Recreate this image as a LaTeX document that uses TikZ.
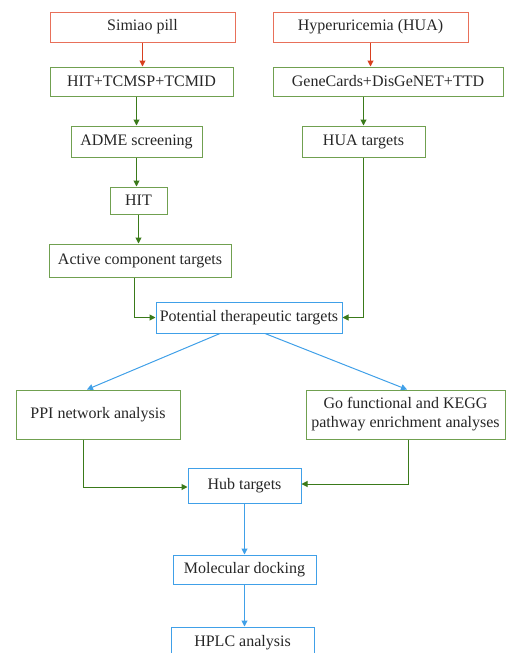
\documentclass[tikz,border=0pt]{standalone}
\usepackage{fontspec}
\setmainfont{Liberation Serif}
\usetikzlibrary{arrows.meta, positioning}
\definecolor{startred}{RGB}{232, 112, 90}
\definecolor{arrowred}{RGB}{216, 64, 32}
\definecolor{boxgreen}{RGB}{112, 160, 80}
\definecolor{arrowgreen}{RGB}{58, 122, 26}
\definecolor{stepblue}{RGB}{64, 160, 232}

\begin{document}
\begin{tikzpicture}[x=1pt, y=-1pt, >={Triangle[length=6pt,width=6pt]},
  every node/.style={font=\fontsize{16}{19}\selectfont, text=black!85},
  redbox/.style={rectangle, draw=startred, line width=1pt, inner sep=0pt},
  greenbox/.style={rectangle, draw=boxgreen, line width=1pt, inner sep=0pt},
  bluebox/.style={rectangle, draw=stepblue, line width=1pt, inner sep=0pt},
  redarrow/.style={->, arrowred, line width=1pt},
  greenarrow/.style={->, arrowgreen, line width=1pt},
  bluearrow/.style={->, stepblue, line width=1pt}]

\useasboundingbox (0,0) rectangle (506,653);
\clip (0,0) rectangle (506,653);

% Sources
\node[redbox, minimum width=185, minimum height=30] at (142.5,27) (sp) {Simiao pill};
\node[redbox, minimum width=195, minimum height=30] at (370.5,27) (hua) {Hyperuricemia (HUA)};

% Databases
\node[greenbox, minimum width=183, minimum height=29] at (141.5,81.5) (db1) {HIT+TCMSP+TCMID};
\node[greenbox, minimum width=230, minimum height=29] at (388,81.5) (db2) {GeneCards+DisGeNET+TTD};

% Screening and targets
\node[greenbox, minimum width=131, minimum height=31] at (136.5,141.5) (adme) {ADME screening};
\node[greenbox, minimum width=123, minimum height=31] at (363.5,141.5) (huat) {HUA targets};
\node[greenbox, minimum width=57, minimum height=27] at (138.5,200.5) (hit) {HIT};
\node[greenbox, minimum width=182, minimum height=33] at (140,260.5) (act) {Active component targets};

% Intersection
\node[bluebox, minimum width=186, minimum height=31] at (249,317.5) (pot) {Potential therapeutic targets};

% Analyses
\node[greenbox, minimum width=164, minimum height=49] at (98,414.5) (ppi) {PPI network analysis};
\node[greenbox, minimum width=199, minimum height=49, align=center] at (405.5,414.5) (go) {Go functional and KEGG\\pathway enrichment analyses};

% Validation
\node[bluebox, minimum width=113, minimum height=35] at (244.5,485.5) (hub) {Hub targets};
\node[bluebox, minimum width=143, minimum height=29] at (244.5,569.5) (mol) {Molecular docking};
\node[bluebox, minimum width=143, minimum height=31] at (242.5,642.5) (hplc) {HPLC analysis};

% Connections: sources to databases
\draw[redarrow] (sp) -- (sp |- db1.north);
\draw[redarrow] (hua) -- (hua |- db2.north);

% Connections: left branch
\draw[greenarrow] (adme |- db1.south) -- (adme.north);
\draw[greenarrow] (adme) -- (adme |- hit.north);
\draw[greenarrow] (hit) -- (hit |- act.north);
\draw[greenarrow] ([xshift=-6]act.south) |- (pot.west);

% Connections: right branch
\draw[greenarrow] (huat |- db2.south) -- (huat.north);
\draw[greenarrow] (huat.south) |- (pot.east);

% Connections: potential targets to analyses
\draw[bluearrow] ([xshift=-29]pot.south) -- ([xshift=-11]ppi.north);
\draw[bluearrow] ([xshift=16]pot.south) -- ([xshift=1.5]go.north);

% Connections: analyses to hub targets
\draw[greenarrow] ([xshift=-15]ppi.south) |- ([yshift=-1.5]hub.west);
\draw[greenarrow] ([xshift=2.5]go.south) |- ([yshift=1.5]hub.east);

% Connections: hub targets to validation
\draw[bluearrow] (hub) -- (hub |- mol.north);
\draw[bluearrow] (mol) -- (mol |- hplc.north);

\end{tikzpicture}
\end{document}
